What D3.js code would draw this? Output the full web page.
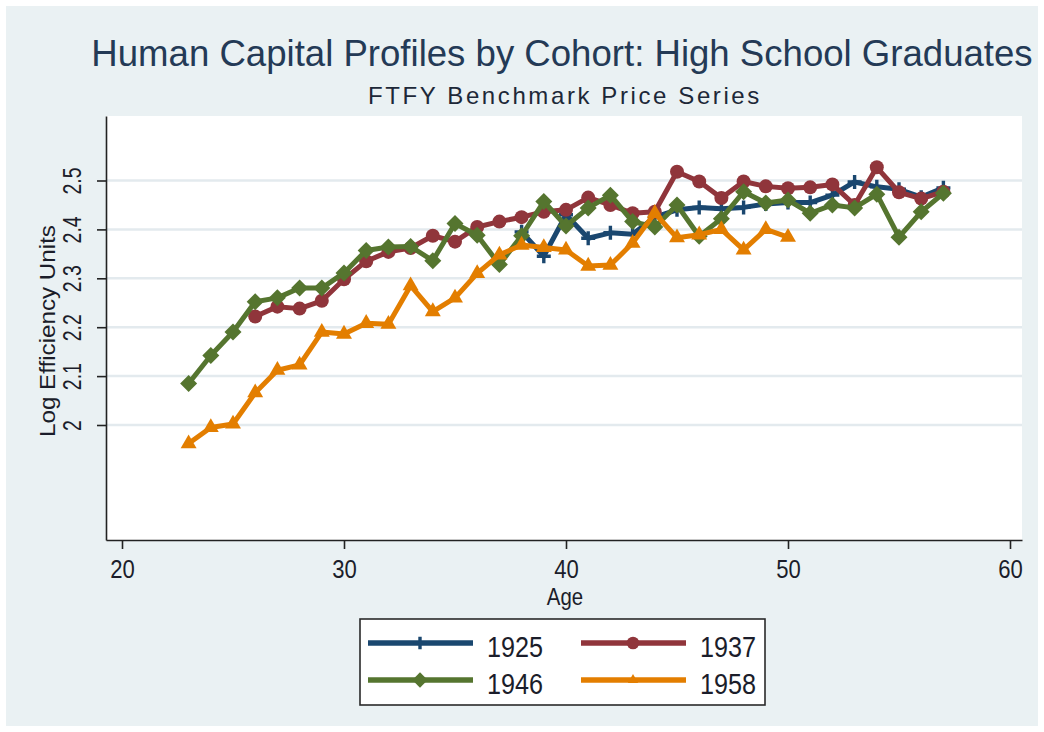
<!DOCTYPE html>
<html><head><meta charset="utf-8">
<script src="https://cdn.jsdelivr.net/npm/d3@7"></script>
<style>
html,body{margin:0;padding:0;background:#ffffff;}
svg{display:block;}
text{font-family:"Liberation Sans",Arial,Helvetica,sans-serif;}
</style></head><body>
<svg id="chart" width="1044" height="732"></svg>
<script>
// ---------------- data ----------------
const titleText = "Human Capital Profiles by Cohort: High School Graduates";
const subtitleText = "FTFY Benchmark Price Series";
const xAxisTitle = "Age";
const yAxisTitle = "Log Efficiency Units";
const xTickValues = [20, 30, 40, 50, 60];
const yTickValues = [2.0, 2.1, 2.2, 2.3, 2.4, 2.5];
const yTickLabels = ["2", "2.1", "2.2", "2.3", "2.4", "2.5"];
const cohorts = ["1925", "1937", "1946", "1958"];

const ages1925 = [38,39,40,41,42,43,44,45,46,47,48,49,50,51,52,53,54,55,56,57];
const values1925 = [2.395,2.345,2.430,2.382,2.393,2.390,2.425,2.440,2.445,2.442,2.445,2.452,2.455,2.455,2.470,2.497,2.487,2.482,2.466,2.485];

const ages1937 = [26,27,28,29,30,31,32,33,34,35,36,37,38,39,40,41,42,43,44,45,46,47,48,49,50,51,52,53,54,55,56,57];
const values1937 = [2.222,2.242,2.238,2.254,2.298,2.335,2.354,2.362,2.387,2.375,2.405,2.416,2.425,2.436,2.440,2.465,2.450,2.433,2.436,2.518,2.498,2.464,2.498,2.488,2.484,2.486,2.492,2.450,2.527,2.476,2.463,2.477];

const ages1946 = [23,24,25,26,27,28,29,30,31,32,33,34,35,36,37,38,39,40,41,42,43,44,45,46,47,48,49,50,51,52,53,54,55,56,57];
const values1946 = [2.085,2.142,2.190,2.252,2.260,2.280,2.280,2.311,2.357,2.364,2.365,2.336,2.412,2.388,2.328,2.387,2.457,2.407,2.444,2.470,2.416,2.405,2.450,2.386,2.422,2.477,2.454,2.460,2.433,2.450,2.444,2.472,2.384,2.436,2.474];

const ages1958 = [23,24,25,26,27,28,29,30,31,32,33,34,35,36,37,38,39,40,41,42,43,44,45,46,47,48,49,50];
const values1958 = [1.962,1.995,2.002,2.066,2.112,2.123,2.190,2.186,2.208,2.206,2.285,2.232,2.260,2.310,2.348,2.368,2.363,2.358,2.325,2.327,2.372,2.433,2.383,2.389,2.400,2.358,2.400,2.384];

// ---------------- styling ----------------
const seriesStyle = {
  "1925": {color: "#1a476f", marker: "plus"},
  "1937": {color: "#90353b", marker: "circle"},
  "1946": {color: "#55752f", marker: "diamond"},
  "1958": {color: "#e37e00", marker: "triangle"}
};
const series = [
  {name: cohorts[0], ages: ages1925, values: values1925},
  {name: cohorts[1], ages: ages1937, values: values1937},
  {name: cohorts[2], ages: ages1946, values: values1946},
  {name: cohorts[3], ages: ages1958, values: values1958}
];

const W = 1044, H = 732;
const plot = {left: 106, top: 116, right: 1022, bottom: 540};

const svg = d3.select("#chart");

// outer background
svg.append("rect").attr("x", 0).attr("y", 0).attr("width", W).attr("height", H).attr("fill", "#ffffff");
svg.append("rect").attr("x", 6).attr("y", 6).attr("width", W - 12).attr("height", H - 12).attr("fill", "#eaf1f3");

// scales (tick positions anchored, then widened to the plot frame)
const xBase = d3.scaleLinear().domain([20, 60]).range([122, 1010]);
const x = d3.scaleLinear().domain([xBase.invert(plot.left), xBase.invert(plot.right)]).range([plot.left, plot.right]);
const yBase = d3.scaleLinear().domain([2.0, 2.5]).range([425, 180.5]);
const y = d3.scaleLinear().domain([yBase.invert(plot.bottom), yBase.invert(plot.top)]).range([plot.bottom, plot.top]);

// plot region
svg.append("rect").attr("x", plot.left).attr("y", plot.top)
  .attr("width", plot.right - plot.left).attr("height", plot.bottom - plot.top).attr("fill", "#ffffff");

// gridlines
svg.append("g").selectAll("line").data(yTickValues).join("line")
  .attr("x1", plot.left + 1).attr("x2", plot.right)
  .attr("y1", d => y(d)).attr("y2", d => y(d))
  .attr("stroke", "#e3eaee").attr("stroke-width", 2.5);

// axes
const yAxis = svg.append("g").attr("transform", `translate(${plot.left},0)`)
  .call(d3.axisLeft(y).tickValues(yTickValues).tickSize(9).tickSizeOuter(0)
    .tickFormat((d, i) => yTickLabels[i]));
yAxis.select(".domain").attr("stroke", "#222").attr("stroke-width", 1.6);
yAxis.selectAll(".tick line").attr("stroke", "#222").attr("stroke-width", 1.6);
yAxis.selectAll(".tick text")
  .attr("x", 0).attr("y", 0).attr("dy", null)
  .attr("text-anchor", "middle")
  .attr("transform", "translate(-25,0) rotate(-90) scale(0.78,1)")
  .attr("font-size", 25).attr("fill", "#1b1d2a");

const xAxis = svg.append("g").attr("transform", `translate(0,${plot.bottom})`)
  .call(d3.axisBottom(x).tickValues(xTickValues).tickSize(9).tickSizeOuter(0));
xAxis.select(".domain").attr("stroke", "#222").attr("stroke-width", 1.6);
xAxis.selectAll(".tick line").attr("stroke", "#222").attr("stroke-width", 1.6);
xAxis.selectAll(".tick text")
  .attr("y", 0).attr("dy", null)
  .attr("transform", "translate(0,38) scale(0.85,1)")
  .attr("font-size", 26).attr("fill", "#1b1d2a");

// axis titles
svg.append("text").attr("transform", "translate(565,605) scale(0.85,1)")
  .attr("text-anchor", "middle").attr("font-size", 24).attr("fill", "#1b1d2a").text(xAxisTitle);
svg.append("text").attr("transform", "translate(55,331) rotate(-90) scale(1.1,1)")
  .attr("text-anchor", "middle").attr("font-size", 22).attr("fill", "#1b1d2a").text(yAxisTitle);

// titles
svg.append("text").attr("x", 562).attr("y", 66).attr("text-anchor", "middle")
  .attr("font-size", 36.6).attr("fill", "#243a56").text(titleText);
svg.append("text").attr("x", 565).attr("y", 104).attr("text-anchor", "middle")
  .attr("font-size", 24).attr("letter-spacing", 2.6).attr("fill", "#1d2838").text(subtitleText);

// marker drawing
function drawMarker(g, type, color, s) {
  if (type === "plus") {
    g.append("path").attr("d", `M${-7*s},0H${7*s}M0,${-7*s}V${7*s}`)
      .attr("stroke", color).attr("stroke-width", 3.4).attr("fill", "none");
  } else if (type === "circle") {
    g.append("circle").attr("r", 7 * s).attr("fill", color);
  } else if (type === "diamond") {
    const r = 8.5 * s;
    g.append("path").attr("d", `M0,${-r}L${r},0L0,${r}L${-r},0Z`).attr("fill", color);
  } else if (type === "triangle") {
    g.append("path").attr("d", d3.symbol(d3.symbolTriangle, 110 * s * s)()).attr("fill", color);
  }
}

// series
const line = d3.line().x(d => x(d[0])).y(d => y(d[1]));
series.forEach(sr => {
  const st = seriesStyle[sr.name];
  const pts = sr.ages.map((a, i) => [a, sr.values[i]]);
  const g = svg.append("g");
  g.append("path").datum(pts).attr("d", line)
    .attr("fill", "none").attr("stroke", st.color).attr("stroke-width", 5)
    .attr("stroke-linejoin", "round").attr("stroke-linecap", "round");
  g.selectAll("g.m").data(pts).join("g").attr("class", "m")
    .attr("transform", d => `translate(${x(d[0])},${y(d[1])})`)
    .each(function() { drawMarker(d3.select(this), st.marker, st.color, 1); });
});

// legend
const legend = svg.append("g");
legend.append("rect").attr("x", 360).attr("y", 619).attr("width", 405).attr("height", 86)
  .attr("fill", "#ffffff").attr("stroke", "#2a2a2a").attr("stroke-width", 1.6);
const legPos = [
  {x: 368, y: 643}, {x: 581, y: 643},
  {x: 368, y: 680}, {x: 581, y: 680}
];
cohorts.forEach((c, i) => {
  const st = seriesStyle[c];
  const p = legPos[i];
  const g = legend.append("g").attr("transform", `translate(${p.x},${p.y})`);
  g.append("line").attr("x1", 0).attr("x2", 105).attr("y1", 0).attr("y2", 0)
    .attr("stroke", st.color).attr("stroke-width", 5.5);
  const mg = g.append("g").attr("transform", "translate(52,0)");
  drawMarker(mg, st.marker, st.color, st.marker === "triangle" ? 0.65 : 0.9);
  g.append("text").attr("transform", "translate(119,14) scale(0.84,1)")
    .attr("font-size", 30).attr("fill", "#1b1d2a").text(c);
});
</script>
</body></html>
